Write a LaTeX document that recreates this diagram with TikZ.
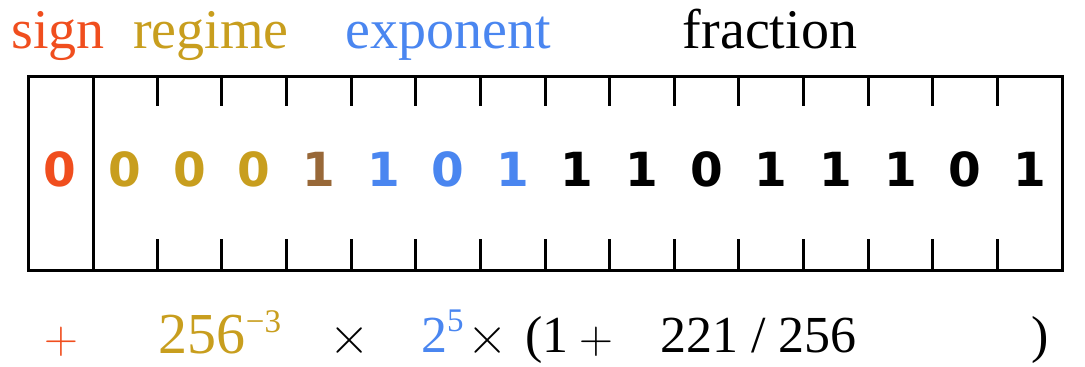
\documentclass[tikz,border=0pt]{standalone}
\usepackage{fontspec}
\setmainfont{Liberation Serif}
\newfontfamily\digitfont{DejaVu Sans}
\newfontfamily\opfont{Latin Modern Roman}
\definecolor{signc}{RGB}{240,78,30}
\definecolor{regc}{RGB}{200,158,30}
\definecolor{termc}{RGB}{152,104,56}
\definecolor{expc}{RGB}{74,134,240}
\newcommand\supx[1]{{\fontsize{33}{33}\selectfont\raisebox{21pt}{#1}}}
\begin{document}
\begin{tikzpicture}[x=1pt,y=-1pt,
  frame/.style={line width=3pt,black},
  toplbl/.style={inner sep=0pt,anchor=base,font=\fontsize{56}{56}\selectfont},
  botlbl/.style={inner sep=0pt,anchor=base west,font=\fontsize{52}{52}\selectfont},
  plussym/.style={inner sep=0pt,anchor=base,font=\opfont\fontsize{47}{47}\selectfont},
  timessym/.style={inner sep=0pt,anchor=base,font=\opfont\fontsize{56}{56}\selectfont},
  bit/.style={inner sep=0pt,anchor=center,font=\digitfont\bfseries\fontsize{47}{47}\selectfont}]
\useasboundingbox (0,0) rectangle (1085,367);
% labels on top
\node[toplbl,text=signc] (lsign) at (58,48) {sign};
\node[toplbl,text=regc] (lregime) at (211,48) {regime};
\node[toplbl,text=expc] (lexp) at (448,48) {exponent};
\node[toplbl,text=black] (lfrac) at (770,48) {fraction};
% frame
\draw[frame] (28,76) rectangle (1062,270);
\draw[frame] (93,76) -- (93,270);
\foreach \k in {2,...,15}{
  \draw[frame] ({28+64.625*\k},76) -- ++(0,30);
  \draw[frame] ({28+64.625*\k},270) -- ++(0,-31);
}
% bits
\foreach \d/\c [count=\i from 0] in {0/signc,0/regc,0/regc,0/regc,1/termc,1/expc,0/expc,1/expc,1/black,1/black,0/black,1/black,1/black,1/black,0/black,1/black}{
  \node[bit,text=\c] (b\i) at ({28+64.625*(\i+0.5)},169) {\d};
}
% value line
\node[plussym,text=signc] (vsign) at (61,353) {+};
\node[botlbl,anchor=base,text=regc,font=\fontsize{58}{58}\selectfont] (vreg) at (220,353) {256\supx{−3}};
\node[timessym] (vt1) at (350,354) {×};
\node[botlbl,text=expc] (vexp) at (421,352) {2\supx{5}};
\node[timessym] (vt2) at (488,354) {×};
\node[botlbl] (vopen) at (525,352) {(1};
\node[plussym] (vplus) at (596,353) {+};
\node[botlbl] (vfrac) at (660,352) {221 / 256};
\node[botlbl] (vclose) at (1031,352) {)};
\end{tikzpicture}
\end{document}
